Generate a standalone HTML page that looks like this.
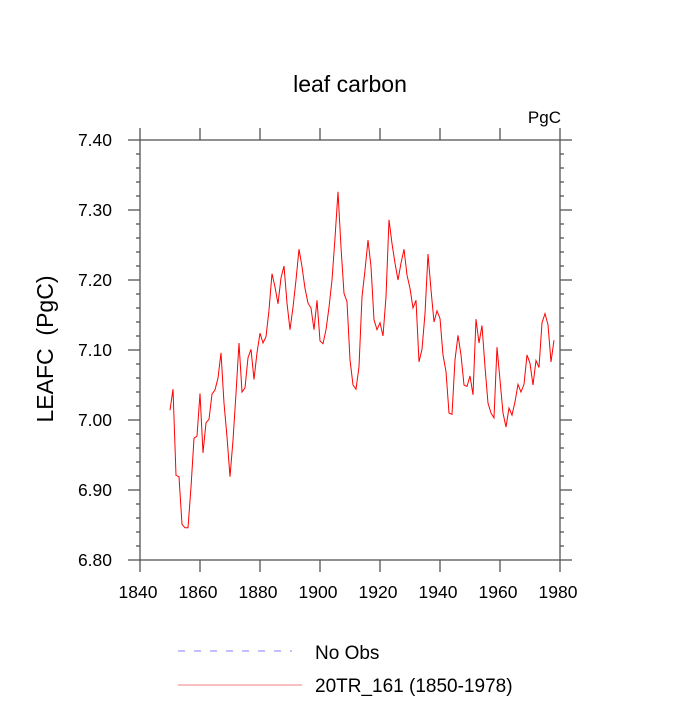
<!DOCTYPE html>
<html><head><meta charset="utf-8"><style>
body{margin:0;background:#fff}
svg text{font-family:"Liberation Sans",sans-serif;fill:#000}
</style></head><body>
<svg id="chart" width="700" height="700" viewBox="0 0 700 700" xmlns="http://www.w3.org/2000/svg">
<rect width="700" height="700" fill="#fff"/>
<text x="350" y="92" font-size="23" text-anchor="middle">leaf carbon</text>
<text x="561" y="123" font-size="17" text-anchor="end">PgC</text>
<text transform="translate(53,349) rotate(-90)" font-size="23" text-anchor="middle">LEAFC&#160;&#160;(PgC)</text>
<g id="axes"></g>
<g id="series"></g>
<g>
<line x1="178" y1="651" x2="292" y2="651" stroke="#8080ff" stroke-width="1" stroke-dasharray="7,9"/>
<text x="315" y="659" font-size="19">No Obs</text>
<line x1="178" y1="685" x2="302" y2="685" stroke="#f08080" stroke-width="1"/>
<text x="315" y="692" font-size="19">20TR_161 (1850-1978)</text>
</g>
</svg>
<script>
const startYear = 1850;
const leafc = [7.014,7.044,6.921,6.919,6.851,6.846,6.846,6.904,6.974,6.977,
7.038,6.953,6.996,7.001,7.037,7.043,7.060,7.096,7.024,6.976,
6.919,6.971,7.038,7.110,7.040,7.046,7.089,7.101,7.058,7.096,
7.124,7.110,7.119,7.157,7.209,7.190,7.166,7.203,7.220,7.167,
7.129,7.161,7.200,7.244,7.219,7.188,7.167,7.160,7.129,7.171,
7.113,7.109,7.129,7.161,7.200,7.260,7.326,7.247,7.181,7.169,
7.086,7.050,7.044,7.076,7.176,7.214,7.257,7.219,7.143,7.129,
7.139,7.120,7.176,7.286,7.252,7.224,7.200,7.224,7.244,7.207,
7.188,7.160,7.171,7.083,7.101,7.152,7.237,7.186,7.140,7.156,
7.145,7.093,7.069,7.010,7.008,7.086,7.121,7.093,7.050,7.048,
7.063,7.036,7.144,7.110,7.135,7.076,7.024,7.010,7.003,7.104,
7.057,7.010,6.990,7.017,7.007,7.026,7.051,7.040,7.051,7.093,
7.081,7.050,7.085,7.075,7.139,7.152,7.136,7.083,7.114];
const xTicks = [1840,1860,1880,1900,1920,1940,1960,1980];
const yTicks = [6.80,6.90,7.00,7.10,7.20,7.30,7.40];

const L=140,R=560,T=140,B=560;
const xMin=1840,xMax=1980,yMin=6.8,yMax=7.4;
const sx=v=>L+(v-xMin)/(xMax-xMin)*(R-L);
const sy=v=>B-(v-yMin)/(yMax-yMin)*(B-T);
const NS="http://www.w3.org/2000/svg";
const axes=document.getElementById('axes');
function mk(tag,attrs,parent){const e=document.createElementNS(NS,tag);for(const k in attrs)e.setAttribute(k,attrs[k]);parent.appendChild(e);return e;}
const frame=mk('rect',{x:L,y:T,width:R-L,height:B-T,fill:'none',stroke:'#555','stroke-width':1.3},axes);


const tk={stroke:'#555','stroke-width':1.3};
xTicks.forEach(v=>{
  const x=sx(v);
  const a=mk('line',Object.assign({x1:x,y1:B,x2:x,y2:B+12},tk),axes);
  
  
  const b=mk('line',Object.assign({x1:x,y1:T,x2:x,y2:T-12},tk),axes);
  
  
  const t=mk('text',{x:x-2,y:B+38,'font-size':17.5,'text-anchor':'middle'},axes);
  t.textContent=v;
  
  
});
for(let v=yMin;v<=yMax+1e-9;v+=0.02){
  const y=sy(v);
  const major=Math.abs(Math.round(v*10)-v*10)<1e-6;
  const len=major?12:4;
  const a=mk('line',Object.assign({x1:L,y1:y,x2:L-len,y2:y},tk),axes);
  
  
  const b=mk('line',Object.assign({x1:R,y1:y,x2:R+len,y2:y},tk),axes);
  
  
}
yTicks.forEach(v=>{
  const t=mk('text',{x:112,y:sy(v)+6,'font-size':17.5,'text-anchor':'end'},axes);
  t.textContent=v.toFixed(2);
  
  
});
const pts=leafc.map((v,i)=>sx(startYear+i).toFixed(1)+','+sy(v).toFixed(1)).join(' ');
const line=mk('polyline',{points:pts,fill:'none',stroke:'#ff0000','stroke-width':1},document.getElementById('series'));


</script>
</body></html>
